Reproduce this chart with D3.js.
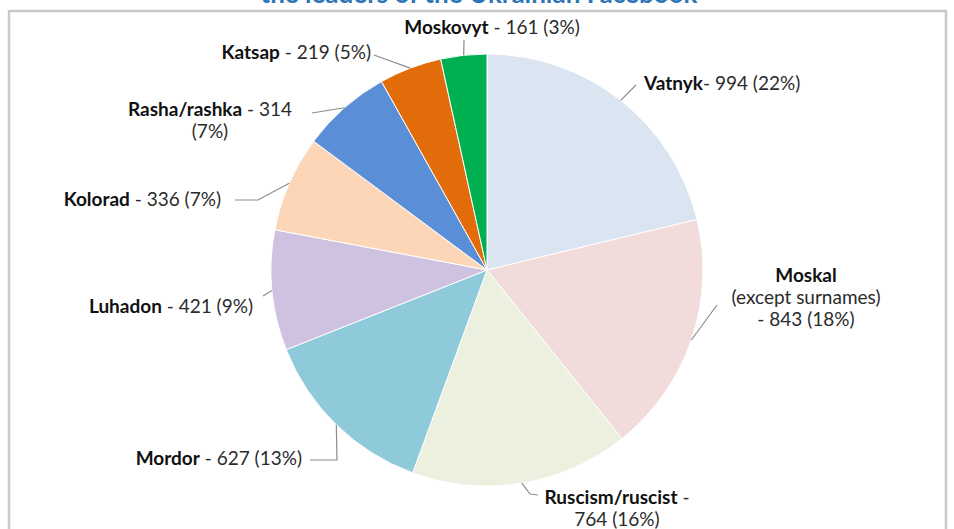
<!DOCTYPE html>
<html>
<head>
<meta charset="utf-8">
<script src="https://cdn.jsdelivr.net/npm/d3@7"></script>
<style>
  body { margin: 0; background: #fff; }
  text { font-family: Lato, "Noto Sans", sans-serif; }
</style>
</head>
<body>
<svg id="chart" width="954" height="529"></svg>
<script>
// slur terms, clockwise from 12 o'clock
var terms = ['Vatnyk', 'Moskal', 'Ruscism/ruscist', 'Mordor', 'Luhadon', 'Kolorad', 'Rasha/rashka', 'Katsap', 'Moskovyt']
var counts = [994, 843, 764, 627, 421, 336, 314, 219, 161]
var shares = ['22%', '18%', '16%', '13%', '9%', '7%', '7%', '5%', '3%']
var colors = ['#dbe4f1', '#f2dcdb', '#ebf1de', '#8fcadb', '#cfc2e0', '#fcd6b6', '#5a8fd8', '#e26b0a', '#00b050']

var title = 'the leaders of the Ukrainian Facebook'

// label layout: anchor point, how the text is split into lines, and where the leader meets the label
var labelLayout = [
  { x: 644, y: 90, anchor: 'start', split: 'one', sep: '- ', leader: [[636, 85]] },
  { x: 806, y: 282, anchor: 'middle', split: 'moskal', leader: [[717, 305]] },
  { x: 617, y: 504, anchor: 'middle', split: 'two', sep: ' -', leader: [[530, 494], [538, 495]] },
  { x: 302, y: 465, anchor: 'end', split: 'one', sep: ' - ', leader: [[337, 460], [310, 460]] },
  { x: 253, y: 313, anchor: 'end', split: 'one', sep: ' - ', leader: [[263, 296]] },
  { x: 221, y: 206, anchor: 'end', split: 'one', sep: ' - ', leader: [[258, 200], [235, 200]] },
  { x: 210, y: 116, anchor: 'middle', split: 'pct', sep: ' - ', leader: [[312, 113]] },
  { x: 371, y: 59, anchor: 'end', split: 'one', sep: ' - ', leader: [[374, 55]] },
  { x: 492, y: 34, anchor: 'middle', split: 'one', sep: ' - ', leader: [[464, 40]] }
]

function labelLines (i) {
  var lab = labelLayout[i]
  var num = counts[i] + ' (' + shares[i] + ')'
  if (lab.split === 'moskal') return [[terms[i], ''], ['', '(except surnames)'], ['', '- ' + num]]
  if (lab.split === 'two') return [[terms[i], lab.sep], ['', num]]
  if (lab.split === 'pct') return [[terms[i], lab.sep + counts[i]], ['', '(' + shares[i] + ')']]
  return [[terms[i], lab.sep + num]]
}

var width = 954, height = 529
var cx = 487, cy = 270, radius = 216

var svg = d3.select('#chart')

// title, mostly cut off by the top of the picture
svg.append('text')
  .attr('x', 479)
  .attr('y', 3)
  .attr('text-anchor', 'middle')
  .attr('font-size', 26)
  .attr('font-weight', 'bold')
  .attr('fill', '#2e75b6')
  .text(title)

// chart frame
svg.append('rect')
  .attr('x', 9)
  .attr('y', 11)
  .attr('width', 937)
  .attr('height', 540)
  .attr('fill', 'none')
  .attr('stroke', '#c9c9c9')
  .attr('stroke-width', 2.5)

var pie = d3.pie().sort(null).value(function (d) { return d })
var arcs = pie(counts)
var arc = d3.arc().innerRadius(0).outerRadius(radius)
var edge = d3.arc().innerRadius(radius).outerRadius(radius)

var g = svg.append('g').attr('transform', 'translate(' + cx + ',' + cy + ')')

g.selectAll('path.slice')
  .data(arcs)
  .enter().append('path')
  .attr('class', 'slice')
  .attr('d', arc)
  .attr('fill', function (d, i) { return colors[i] })
  .attr('stroke', '#fff')
  .attr('stroke-width', 1)

// leader lines from the slice edge to the label
svg.selectAll('path.leader')
  .data(arcs)
  .enter().append('path')
  .attr('class', 'leader')
  .attr('d', function (d, i) {
    var p = edge.centroid(d)
    var pts = [[p[0] + cx, p[1] + cy]].concat(labelLayout[i].leader)
    return d3.line()(pts)
  })
  .attr('fill', 'none')
  .attr('stroke', '#8c8c8c')
  .attr('stroke-width', 1.2)

// labels
labelLayout.forEach(function (lab, i) {
  var t = svg.append('text')
    .attr('x', lab.x)
    .attr('y', lab.y)
    .attr('text-anchor', lab.anchor)
    .attr('font-size', 19)
  labelLines(i).forEach(function (ln, j) {
    var s = t.append('tspan')
      .attr('x', lab.x)
      .attr('dy', j === 0 ? 0 : 22)
    if (ln[0]) s.append('tspan').attr('font-weight', 'bold').attr('fill', '#111').text(ln[0])
    if (ln[1]) s.append('tspan').attr('fill', '#2b2b2b').text(ln[1])
  })
})
</script>
</body>
</html>
